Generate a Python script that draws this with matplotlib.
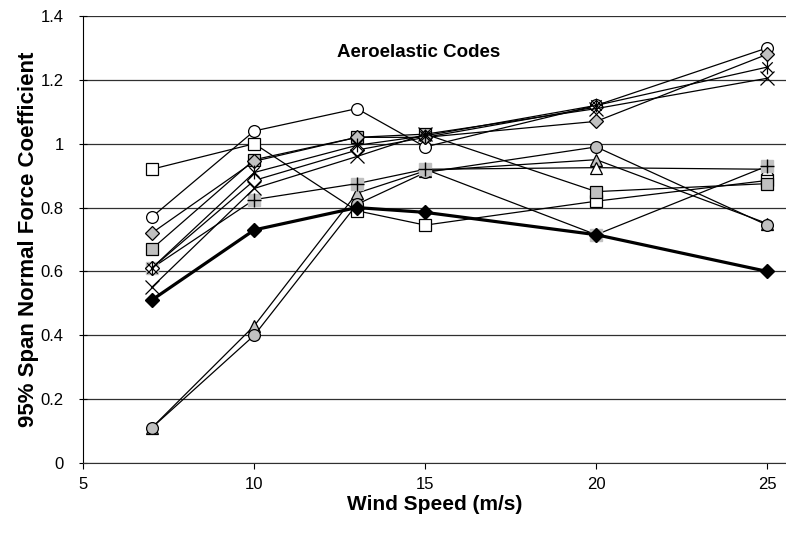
"""95% span normal force coefficient vs wind speed, aeroelastic codes"""

import numpy as np
import matplotlib as mpl
mpl.use('Agg')
import matplotlib.pyplot as plt
from matplotlib.path import Path

plt.rcParams['font.family'] = ['Liberation Sans', 'DejaVu Sans']

nan = np.nan
wind = [7, 10, 13, 15, 20, 25]

open_circle = [0.77, 1.04, 1.11, 0.99, 1.12, 1.30]
open_square = [0.92, 1.00, 0.79, 0.745, 0.82, 0.885]
gray_diamond = [0.72, 0.945, 1.02, 1.02, 1.07, 1.28]
gray_square = [0.67, 0.95, 1.02, 1.03, 0.85, 0.875]
asterisk = [0.61, 0.91, 0.995, 1.025, 1.12, 1.24]
cross = [0.55, 0.86, 0.96, 1.03, 1.11, 1.205]
open_diamond = [0.61, 0.885, 0.98, 1.02, 1.115, nan]
gray_plus = [0.61, 0.825, 0.875, 0.92, 0.715, 0.93]
gray_triangle = [0.11, 0.43, 0.845, 0.915, 0.95, 0.75]
open_triangle = [nan, nan, nan, 0.92, 0.925, 0.92]
gray_circle = [0.11, 0.40, 0.81, 0.91, 0.99, 0.745]
bold_diamond = [0.51, 0.73, 0.80, 0.785, 0.715, 0.60]

GRAY = '#C0C0C0'

# excel style asterisk: an x with a vertical bar through it
star = Path([(0, -1), (0, 1), (-0.75, -0.75), (0.75, 0.75), (-0.75, 0.75), (0.75, -0.75)],
            [Path.MOVETO, Path.LINETO] * 3)


def line(ax, y, marker, fc, ms=8.5, **kw):
    ax.plot(wind, y, color='black', lw=0.9, marker=marker, ms=ms,
            mfc=fc, mec='black', mew=0.9, **kw)


def main():
    fig = plt.figure(figsize=(7.86, 5.34), dpi=100)
    ax = fig.add_axes([0.106, 0.133, 0.894, 0.837])

    line(ax, open_square, 's', 'white')
    line(ax, open_circle, 'o', 'white')
    line(ax, gray_triangle, '^', GRAY)
    line(ax, open_triangle, '^', 'white')
    line(ax, gray_circle, 'o', GRAY)
    line(ax, gray_square, 's', GRAY)
    # gray square with a plus on top
    ax.plot(wind, gray_plus, color='black', lw=0.9, marker='s', ms=9,
            mfc=GRAY, mec=GRAY)
    ax.plot(wind, gray_plus, ls='none', marker='+', ms=10, mec='black', mew=1.0)
    line(ax, open_diamond, 'D', 'white', ms=7.5)
    line(ax, gray_diamond, 'D', GRAY, ms=7.5)
    line(ax, cross, 'x', 'none', ms=10)
    line(ax, asterisk, star, 'none', ms=10)
    ax.plot(wind, bold_diamond, color='black', lw=2.3, marker='D', ms=7,
            mfc='black', mec='black')

    ax.set_xlim(5, 25.55)
    ax.set_ylim(0, 1.4)
    ax.set_xticks([5, 10, 15, 20, 25])
    ax.set_yticks(np.arange(0, 1.41, 0.2))
    ax.set_yticklabels(['0', '0.2', '0.4', '0.6', '0.8', '1', '1.2', '1.4'])
    ax.grid(axis='y', color='#303030', lw=0.9)
    ax.set_axisbelow(True)
    ax.tick_params(axis='y', direction='inout', length=6, labelsize=12, pad=11)
    ax.tick_params(axis='x', direction='out', length=4, labelsize=12, pad=6)
    for s in ['top', 'right']:
        ax.spines[s].set_visible(False)
    ax.spines['bottom'].set_color('#303030')

    ax.set_xlabel('Wind Speed (m/s)', fontsize=15, fontweight='bold', labelpad=2)
    ax.set_ylabel('95% Span Normal Force Coefficient', fontsize=16,
                  fontweight='bold', labelpad=1)
    ax.text(14.8, 1.285, 'Aeroelastic Codes', ha='center', va='center',
            fontsize=13.5, fontweight='bold')

    fig.savefig('out.png', dpi=100)


if __name__ == '__main__':
    main()
